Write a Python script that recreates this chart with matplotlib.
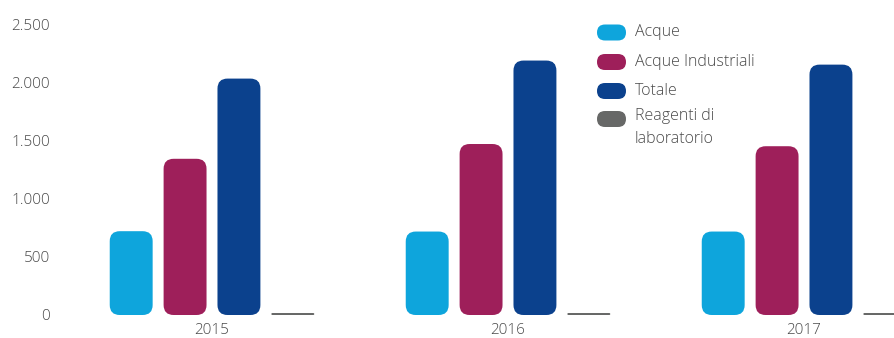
import numpy as np
import matplotlib.pyplot as plt
from matplotlib.patches import FancyBboxPatch

years = ['2015', '2016', '2017']
series = ['Acque', 'Acque Industriali', 'Totale', 'Reagenti di\nlaboratorio']
acque = [720, 717, 717]
acque_industriali = [1342, 1469, 1450]
totale = [2031, 2186, 2151]
reagenti = [17, 17, 17]
colors = ['#0ea5dc', '#9e1f5a', '#0b418d', '#676867']

values = [acque, acque_industriali, totale, reagenti]

plt.rcParams['font.family'] = ['Open Sans', 'DejaVu Sans']
text_color = '#4a4a4a'
fs = 11

W, H = 894, 338
fig = plt.figure(figsize=(W / 100, H / 100), dpi=100)
# axes spans x 64..894 px, y 24..315 px (from top)
ax = fig.add_axes([64 / W, (H - 315) / H, (W - 64) / W, (315 - 24) / H])
ax.set_xlim(-0.5, 2.304)
ax.set_ylim(0, 2500)
for s in ax.spines.values():
    s.set_visible(False)
ax.tick_params(length=0, labelsize=fs, labelcolor=text_color, pad=10)
ax.set_yticks(np.arange(0, 2501, 500))
ax.set_yticklabels([f'{v:,}'.replace(',', '.') for v in range(0, 2501, 500)],
                   fontweight='light')
ax.set_xticks(range(len(years)))
ax.set_xticklabels(years, fontweight='light')
ax.tick_params(axis='x', pad=6)

# pixel scales for rounding corners evenly
ax_w_px = (W - 64)
ax_h_px = (315 - 24)
px_x = ax_w_px / (2.304 + 0.5)
px_y = ax_h_px / 2500
aspect = px_x / px_y

step = 0.182
width = 0.145
x = np.arange(len(years))
for i, (vals, col) in enumerate(zip(values, colors)):
    off = (i - 1.5) * step
    for xi, v in zip(x, vals):
        h_px = v * px_y
        r_px = min(10, h_px / 2)
        box = FancyBboxPatch((xi + off - width / 2, 0), width, v,
                             boxstyle=f'round,pad=0,rounding_size={r_px / px_x}',
                             mutation_aspect=aspect, facecolor=col,
                             edgecolor='none', clip_on=False)
        ax.add_patch(box)

# legend with pill markers
leg_fs = 11.5
rows_y = [32.5, 62, 91, 119]
for label, col, yy in zip(series, colors, rows_y):
    pill = FancyBboxPatch((597 / W, (H - yy - 8) / H), 29 / W, 16 / H,
                          boxstyle=f'round,pad=0,rounding_size={8 / W}',
                          mutation_aspect=W / H, transform=fig.transFigure,
                          facecolor=col, edgecolor='none')
    fig.patches.append(pill)
    if '\n' in label:
        fig.text(635 / W, (H - yy + 11) / H, label, va='top', ha='left',
                 fontsize=leg_fs, color=text_color, fontweight='light',
                 linespacing=1.6)
    else:
        fig.text(635 / W, (H - yy) / H, label, va='center', ha='left',
                 fontsize=leg_fs, color=text_color, fontweight='light')

fig.savefig('out.png', dpi=100)
